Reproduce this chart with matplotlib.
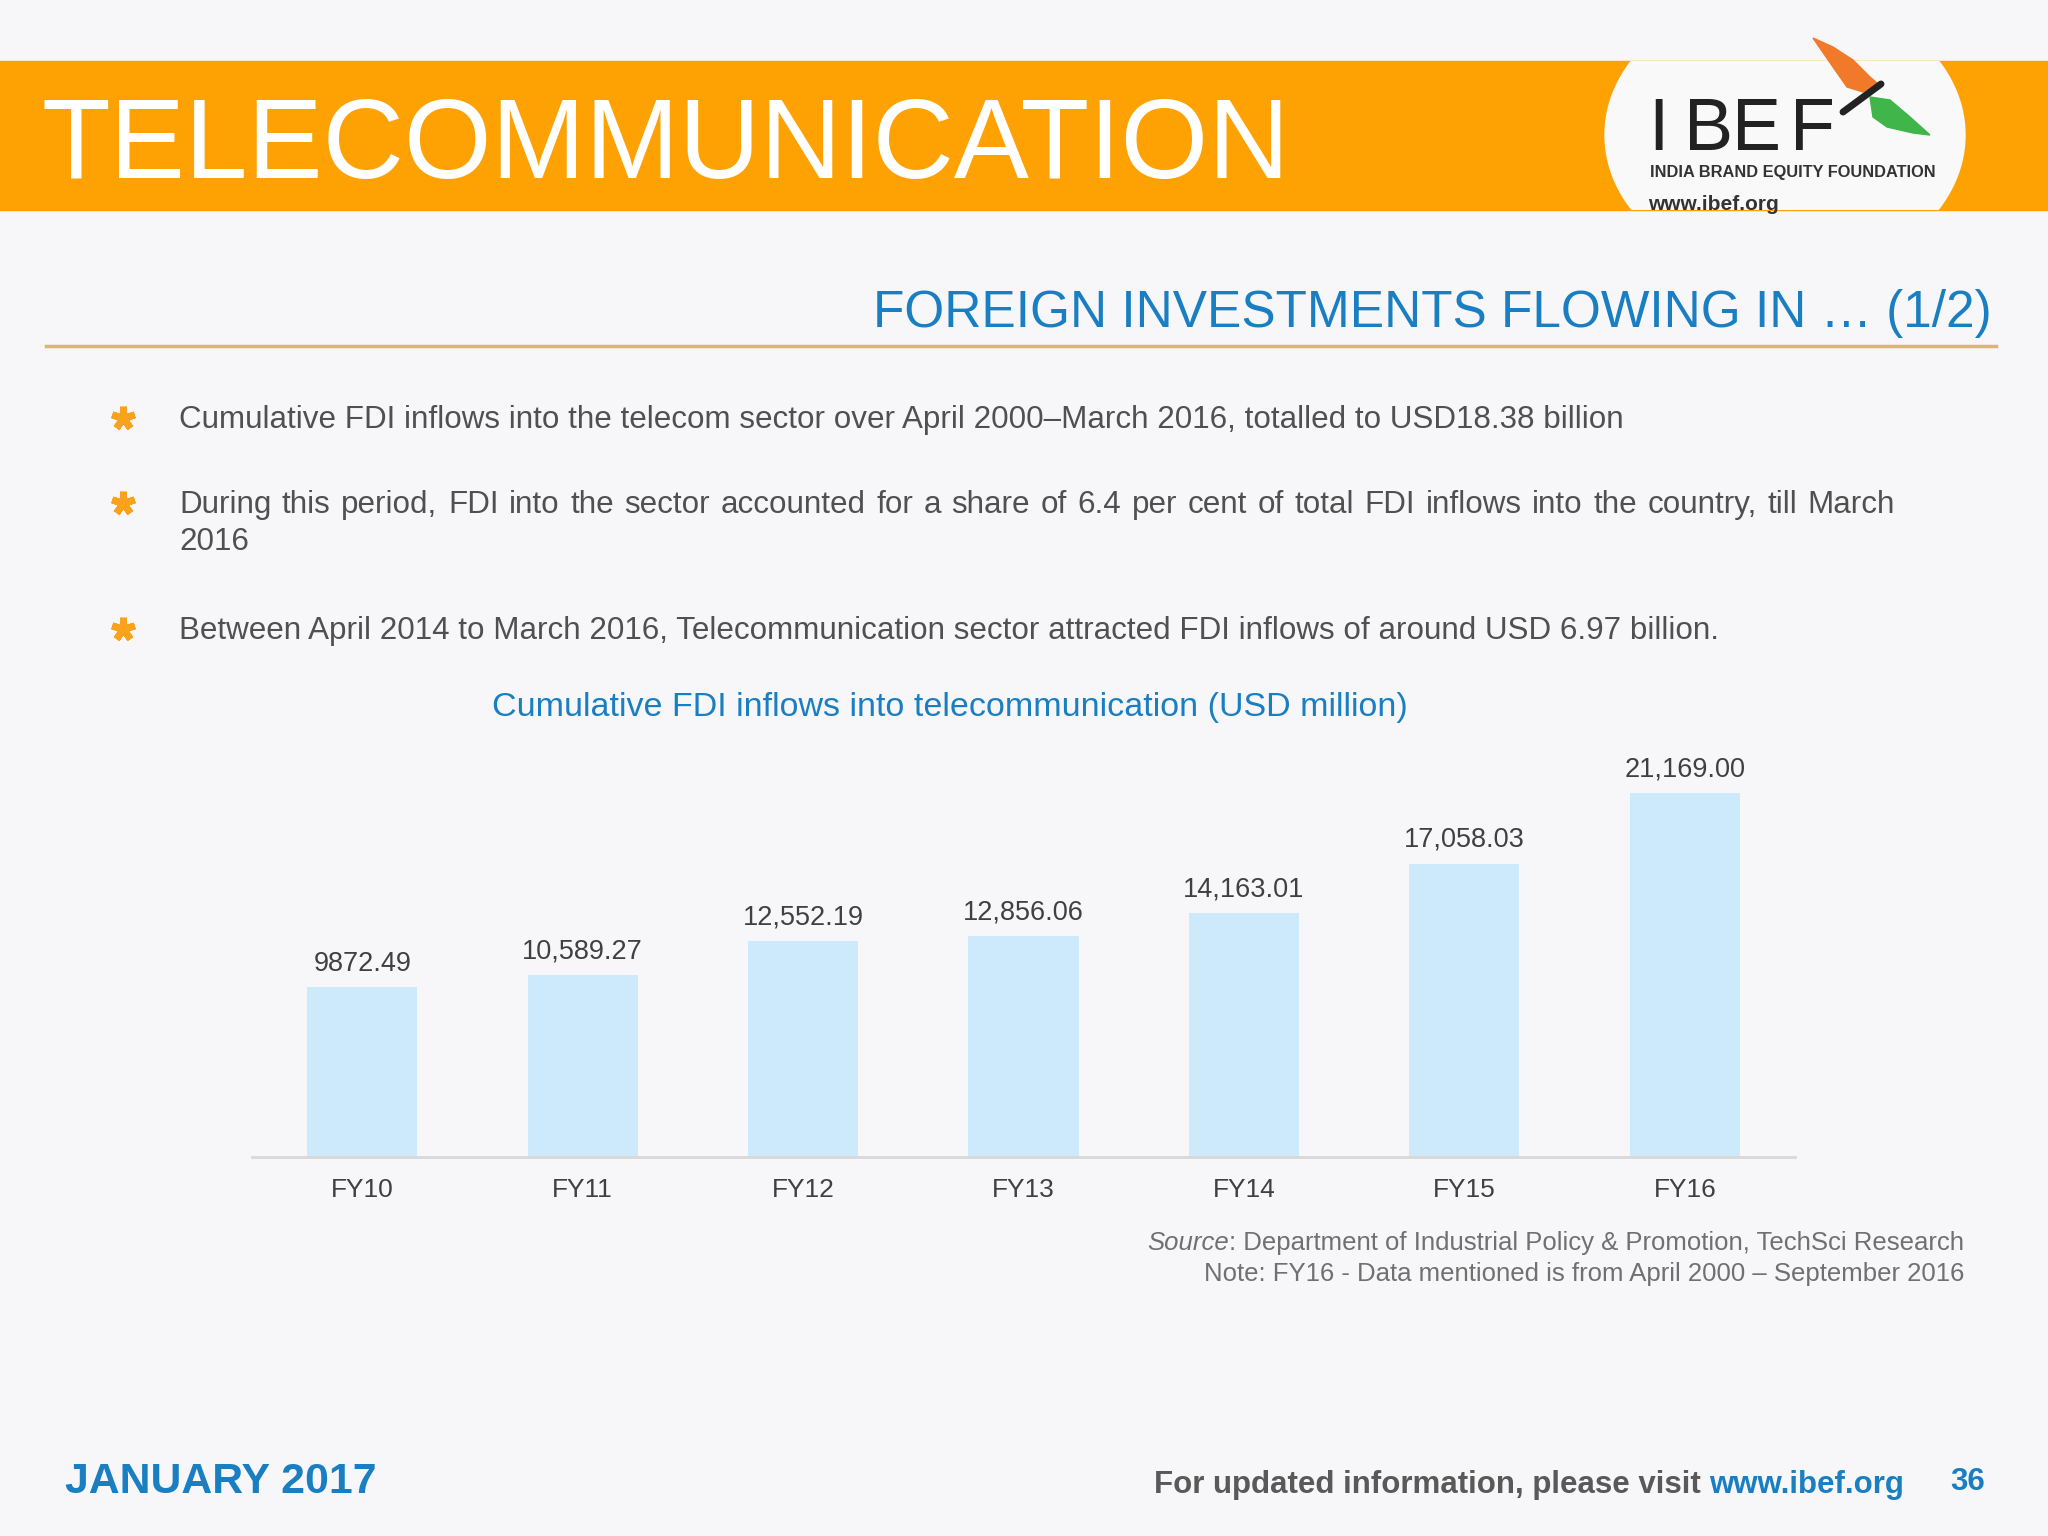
import matplotlib.pyplot as plt
from matplotlib.patches import Rectangle, Ellipse, Polygon

# chart data
years = ['FY10', 'FY11', 'FY12', 'FY13', 'FY14', 'FY15', 'FY16']
fdi = [9872.49, 10589.27, 12552.19, 12856.06, 14163.01, 17058.03, 21169.00]
fdi_labels = ['9872.49', '10,589.27', '12,552.19', '12,856.06', '14,163.01', '17,058.03', '21,169.00']

bullets = [
    'Cumulative FDI inflows into the telecom sector over April 2000\u2013March 2016, totalled to USD18.38 billion',
    'During this period, FDI into the sector accounted for a share of 6.4 per cent of total FDI inflows into the country, till March',
    'Between April 2014 to March 2016, Telecommunication sector attracted FDI inflows of around USD 6.97 billion.',
]

BG = '#f7f7f9'
ORANGE = '#fea203'
BLUE = '#1a7ec2'
GREY = '#505050'

plt.rcParams['font.family'] = ['Liberation Sans', 'DejaVu Sans']

fig = plt.figure(figsize=(20.48, 15.36), dpi=100, facecolor=BG)
bg = fig.add_axes([0, 0, 1, 1])
bg.set_xlim(0, 2048)
bg.set_ylim(1536, 0)
bg.axis('off')

# header band + logo
band = Rectangle((0, 61), 2048, 149, color=ORANGE, zorder=1)
bg.add_patch(band)
oval = Ellipse((1785, 135), 360, 284, color='#f9f9fa', zorder=2)
bg.add_patch(oval)
oval.set_clip_path(band)
bg.text(42, 178, 'TELECOMMUNICATION', fontsize=81, color='white', va='baseline', zorder=3)
for ch, xc in zip('IBEF', [1648, 1684, 1732, 1790]):
    bg.text(xc, 150, ch, fontsize=53, color='#222222', va='baseline', zorder=3)
bg.text(1650, 177, 'INDIA BRAND EQUITY FOUNDATION', fontsize=11.8, fontweight='bold',
        color='#333333', va='baseline', zorder=3)
bg.text(1648, 210, 'www.ibef.org', fontsize=15, fontweight='bold', color='#333333',
        va='baseline', zorder=3)
bg.add_patch(Polygon([(1813, 38), (1833, 47), (1853, 60), (1870, 77), (1877, 83),
                      (1863, 92), (1847, 87), (1833, 67)], color='#f07a2a', zorder=3))
bg.add_patch(Polygon([(1870, 97), (1890, 100), (1910, 117), (1930, 135), (1913, 133),
                      (1887, 127), (1873, 117)], color='#3fb54a', zorder=3))
bg.plot([1843, 1881], [112, 84], color='#222222', lw=5, solid_capstyle='round', zorder=4)

# section title
bg.text(1992, 327, 'FOREIGN INVESTMENTS FLOWING IN \u2026 (1/2)', fontsize=37, color=BLUE,
        ha='right', va='baseline')
bg.plot([46, 1996], [346, 346], color='#dcb866', lw=2.5)

# bullets
renderer = fig.canvas.get_renderer()
fs_b = 22.6


def justify(line, x0, x1, y):
    words = line.split(' ')
    widths = []
    for w in words:
        t = bg.text(0, 0, w, fontsize=fs_b)
        widths.append(t.get_window_extent(renderer).width)
        t.remove()
    gap = (x1 - x0 - sum(widths)) / (len(words) - 1)
    x = x0
    for w, wd in zip(words, widths):
        bg.text(x, y, w, fontsize=fs_b, color=GREY, va='baseline')
        x += wd + gap


for yb in [418, 503, 629]:
    bg.plot(123, yb, marker=(5, 2, 0), ms=17, mew=5, color='#f9a31c')

bg.text(179, 428, bullets[0], fontsize=fs_b, color=GREY, va='baseline')
justify(bullets[1], 179, 1895, 513)
bg.text(179, 550, '2016', fontsize=fs_b, color=GREY, va='baseline')
bg.text(179, 639, bullets[2], fontsize=fs_b, color=GREY, va='baseline')

# chart
bg.text(950, 716, 'Cumulative FDI inflows into telecommunication (USD million)', fontsize=24.5,
        color=BLUE, ha='center', va='baseline')

ax = fig.add_axes([252 / 2048, 1 - 1157 / 1536, (1795 - 252) / 2048, (1157 - 727) / 1536])
ax.patch.set_alpha(0)
ax.bar(range(len(years)), fdi, width=0.5, color='#cdeafc', zorder=2)
ax.set_xlim(-0.5, len(years) - 0.5)
ax.set_ylim(0, 25000)
for i, (v, lab) in enumerate(zip(fdi, fdi_labels)):
    ax.annotate(lab, (i, v), xytext=(0, 12), textcoords='offset points', ha='center',
                va='baseline', fontsize=19.5, color='#404040')
ax.set_xticks(range(len(years)))
ax.set_xticklabels(years, fontsize=19, color='#404040')
ax.tick_params(axis='x', length=0, pad=15)
ax.set_yticks([])
for s in ['top', 'right', 'left']:
    ax.spines[s].set_visible(False)
ax.spines['bottom'].set_color('#d8d8d8')
ax.spines['bottom'].set_linewidth(2)

# source / note
fs_s = 18.5
src = ': Department of Industrial Policy & Promotion, TechSci Research'
bg.text(1964, 1250, src, fontsize=fs_s, color='#707070', ha='right', va='baseline')
t = bg.text(0, 0, src, fontsize=fs_s)
wsrc = t.get_window_extent(renderer).width
t.remove()
bg.text(1964 - wsrc, 1250, 'Source', fontsize=fs_s, style='italic', color='#707070',
        ha='right', va='baseline')
bg.text(1964, 1281, 'Note: FY16 - Data mentioned is from April 2000 \u2013 September 2016',
        fontsize=fs_s, color='#707070', ha='right', va='baseline')

# footer
bg.text(65, 1493, 'JANUARY 2017', fontsize=30.8, fontweight='bold', color=BLUE, va='baseline')
bg.text(1904, 1493, 'www.ibef.org', fontsize=22.5, fontweight='bold', color=BLUE,
        ha='right', va='baseline')
t = bg.text(0, 0, 'www.ibef.org', fontsize=22.5, fontweight='bold')
wurl = t.get_window_extent(renderer).width
t.remove()
bg.text(1904 - wurl, 1493, 'For updated information, please visit ', fontsize=22.5,
        fontweight='bold', color='#595959', ha='right', va='baseline')
bg.text(1985, 1490, '36', fontsize=22.5, fontweight='bold', color=BLUE, ha='right', va='baseline')

fig.savefig('out.png', dpi=100, facecolor=BG)
